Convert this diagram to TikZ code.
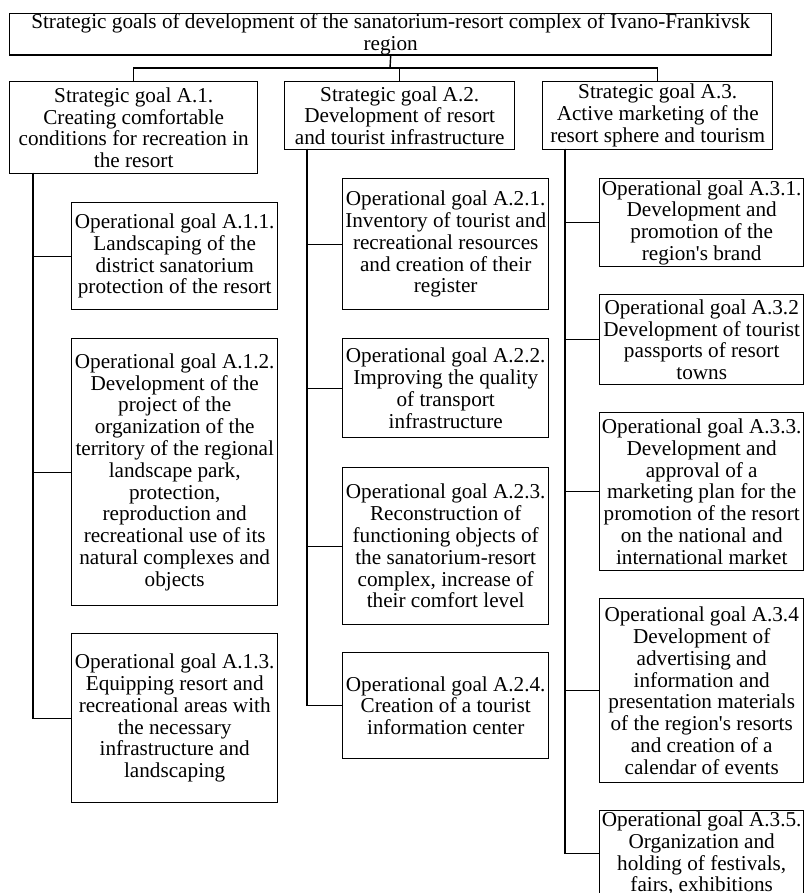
\documentclass[tikz,border=0pt]{standalone}
\usepackage{fontspec}
\setmainfont{Liberation Serif}[Ligatures=TeXOff]
\usepackage{tikz}

\begin{document}
\begin{tikzpicture}[x=1pt,y=-1pt]

	\tikzstyle{goalbox}=[draw,line width=1.4pt,rectangle,anchor=north west,align=center,inner xsep=1pt,inner ysep=1pt,font=\fontsize{21.2}{21.8}\selectfont]
	\tikzstyle{link}=[line width=1.4pt]

	\useasboundingbox (0,0) rectangle (805,893);
	\clip (0,0) rectangle (805,893);

	% main goal
	\node[goalbox,minimum width=762,minimum height=40,inner ysep=0pt] (top) at (9,13) {Strategic goals of development of the sanatorium-resort complex of Ivano-Frankivsk\\region};

	% strategic goals
	\node[goalbox,minimum width=248,minimum height=92] (sA1) at (9,81) {Strategic goal A.1.\\Creating comfortable\\conditions for recreation in\\the resort};
	\node[goalbox,minimum width=230,minimum height=68] (sA2) at (284,81) {Strategic goal A.2.\\Development of resort\\and tourist infrastructure};
	\node[goalbox,minimum width=230,minimum height=68] (sA3) at (542,81) {Strategic goal A.3.\\Active marketing of the\\resort sphere and tourism};

	% operational goals A.1
	\node[goalbox,minimum width=206,minimum height=107] (oA11) at (71,202) {Operational goal A.1.1.\\Landscaping of the\\district sanatorium\\protection of the resort};
	\node[goalbox,minimum width=206,minimum height=267] (oA12) at (71,338) {Operational goal A.1.2.\\Development of the\\project of the\\organization of the\\territory of the regional\\landscape park,\\protection,\\reproduction and\\recreational use of its\\natural complexes and\\objects};
	\node[goalbox,minimum width=206,minimum height=169] (oA13) at (71,633) {Operational goal A.1.3.\\Equipping resort and\\recreational areas with\\the necessary\\infrastructure and\\landscaping};

	% operational goals A.2
	\node[goalbox,minimum width=206,minimum height=131] (oA21) at (342,178) {Operational goal A.2.1.\\Inventory of tourist and\\recreational resources\\and creation of their\\register};
	\node[goalbox,minimum width=206,minimum height=99] (oA22) at (342,338) {Operational goal A.2.2.\\Improving the quality\\of transport\\infrastructure};
	\node[goalbox,minimum width=206,minimum height=157] (oA23) at (342,467) {Operational goal A.2.3.\\Reconstruction of\\functioning objects of\\the sanatorium-resort\\complex, increase of\\their comfort level};
	\node[goalbox,minimum width=206,minimum height=106] (oA24) at (342,652) {Operational goal A.2.4.\\Creation of a tourist\\information center};

	% operational goals A.3
	\node[goalbox,minimum width=204,minimum height=88] (oA31) at (599,178) {Operational goal A.3.1.\\Development and\\promotion of the\\region's brand};
	\node[goalbox,minimum width=204,minimum height=90] (oA32) at (599,294) {Operational goal A.3.2\\Development of tourist\\passports of resort\\towns};
	\node[goalbox,minimum width=204,minimum height=158] (oA33) at (599,412) {Operational goal A.3.3.\\Development and\\approval of a\\marketing plan for the\\promotion of the resort\\on the national and\\international market};
	\node[goalbox,minimum width=204,minimum height=184] (oA34) at (599,598) {Operational goal A.3.4\\Development of\\advertising and\\information and\\presentation materials\\of the region's resorts\\and creation of a\\calendar of events};
	\node[goalbox,minimum width=204,minimum height=84] (oA35) at (599,810) {Operational goal A.3.5.\\Organization and\\holding of festivals,\\fairs, exhibitions};

	% tree
	\coordinate (bus) at (390,68);
	\draw[link] (top.south) -- (bus);
	\draw[link] (bus) -| (sA1.north);
	\draw[link] (bus) -| (sA2.north);
	\draw[link] (bus) -| (sA3.north);

	\coordinate (tA1) at (33,173);
	\coordinate (tA2) at (307,149);
	\coordinate (tA3) at (565,149);

	\draw[link] (tA1) |- (oA11.west);
	\draw[link] (tA1) |- (oA12.west);
	\draw[link] (tA1) |- (oA13.west);

	\draw[link] (tA2) |- (oA21.west);
	\draw[link] (tA2) |- (oA22.west);
	\draw[link] (tA2) |- (oA23.west);
	\draw[link] (tA2) |- (oA24.west);

	\draw[link] (tA3) |- (oA31.west);
	\draw[link] (tA3) |- (oA32.west);
	\draw[link] (tA3) |- (oA33.west);
	\draw[link] (tA3) |- (oA34.west);
	\draw[link] (tA3) |- (oA35.west);

\end{tikzpicture}
\end{document}
